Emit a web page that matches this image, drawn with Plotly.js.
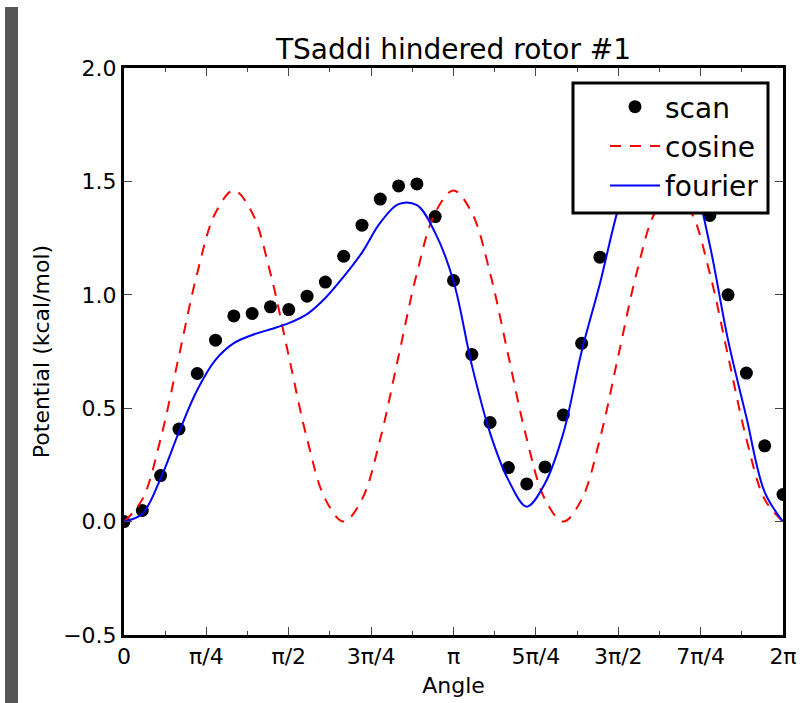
<!DOCTYPE html>
<html><head><meta charset="utf-8">
<script src="https://cdn.plot.ly/plotly-3.0.1.min.js"></script>
<style>html,body{margin:0;padding:0;background:#fff}</style>
</head><body><div id="chart" style="width:800px;height:703px"></div>
<script>
// angles in degrees (axis labelled in multiples of pi)
const scanAngle = [0,10,20,30,40,50,60,70,80,90,100,110,120,130,140,150,160,170,180,190,200,210,220,230,240,250,260,270,280,290,300,310,320,330,340,350,360];
const scanPotential = [0.0,0.049,0.203,0.408,0.653,0.80,0.907,0.918,0.947,0.935,0.994,1.056,1.17,1.307,1.422,1.48,1.489,1.345,1.063,0.737,0.437,0.238,0.166,0.241,0.47,0.786,1.166,1.50,1.72,1.82,1.80,1.62,1.35,1.00,0.655,0.334,0.12];
const curveAngle = [0,10,20,30,40,50,60,70,80,90,100,110,120,130,140,150,160,170,180,190,200,210,220,230,240,250,260,270,280,290,300,310,320,330,340,350,360];
const cosinePotential = [0,0.098,0.365,0.73,1.095,1.362,1.46,1.362,1.095,0.73,0.365,0.098,0,0.098,0.365,0.73,1.095,1.362,1.46,1.362,1.095,0.73,0.365,0.098,0,0.098,0.365,0.73,1.095,1.362,1.46,1.362,1.095,0.73,0.365,0.098,0];
const fourierPotential = [0,0.035,0.19,0.394,0.58,0.713,0.787,0.823,0.848,0.875,0.915,0.986,1.08,1.186,1.318,1.40,1.395,1.273,1.06,0.69,0.39,0.183,0.066,0.169,0.39,0.75,1.05,1.38,1.62,1.74,1.72,1.55,1.22,0.80,0.46,0.13,0];
const xTickVals = [0,45,90,135,180,225,270,315,360];
const xTickText = ['0','π/4','π/2','3π/4','π','5π/4','3π/2','7π/4','2π'];
const yTickVals = [-0.5,0,0.5,1.0,1.5,2.0];
const yTickText = ['−0.5','0.0','0.5','1.0','1.5','2.0'];

const FONT = 'DejaVu Sans, sans-serif';
const traces = [
  {x: scanAngle, y: scanPotential, name: 'scan', mode: 'markers', type: 'scatter', legendgroup: 'a',
   marker: {color: 'black', size: 13}},
  {x: curveAngle, y: cosinePotential, name: 'cosine', mode: 'lines', type: 'scatter', legendgroup: 'b',
   line: {color: '#ff0000', width: 2, dash: '11px,9px', shape: 'spline'}},
  {x: curveAngle, y: fourierPotential, name: 'fourier', mode: 'lines', type: 'scatter', legendgroup: 'c',
   line: {color: '#0000ff', width: 2, shape: 'spline'}}
];
const layout = {
  width: 800, height: 703,
  margin: {l: 124, r: 17, t: 68, b: 68},
  paper_bgcolor: 'white', plot_bgcolor: 'white',
  font: {family: FONT, color: 'black', size: 22},
  title: {text: 'TSaddi hindered rotor #1', font: {size: 28, family: FONT, color: 'black'},
          x: 0.5, xref: 'paper', y: 1 - 49/703, yanchor: 'middle'},
  xaxis: {range: [0, 360], tickvals: xTickVals, ticktext: xTickText,
          showline: true, linecolor: 'black', linewidth: 3, mirror: 'allticks',
          ticks: 'inside', ticklen: 8, tickwidth: 1, tickcolor: '#444',
          minor: {ticks: 'inside', dtick: 22.5, tick0: 0, ticklen: 4, tickwidth: 1, tickcolor: '#444'},
          showgrid: false, zeroline: false, tickfont: {size: 22},
          title: {text: 'Angle', font: {size: 22}, standoff: 10}},
  yaxis: {range: [-0.5, 2.0], tickvals: yTickVals, ticktext: yTickText,
          showline: true, linecolor: 'black', linewidth: 3, mirror: 'allticks',
          ticks: 'inside', ticklen: 8, tickwidth: 1, tickcolor: '#444',
          showgrid: false, zeroline: false, tickfont: {size: 22},
          title: {text: 'Potential (kcal/mol)', font: {size: 22}, standoff: 8}},
  showlegend: true,
  legend: {x: (605-124)/659, xanchor: 'left', y: (635-82)/567, yanchor: 'top',
           bgcolor: 'rgba(0,0,0,0)', borderwidth: 0, font: {size: 28, family: FONT},
           itemwidth: 50, tracegroupgap: 0},
  shapes: [
    {type: 'rect', xref: 'paper', yref: 'paper', x0: (573-124)/659, x1: (768-124)/659,
     y0: (635-213)/567, y1: (635-83)/567, fillcolor: 'white', line: {color: 'black', width: 3}, layer: 'above'},
    {type: 'rect', xref: 'paper', yref: 'paper', x0: (5-124)/659, x1: (18-124)/659,
     y0: (635-703)/567, y1: (635-7)/567, fillcolor: '#565656', line: {width: 0}, layer: 'below'}
  ]
};
Plotly.newPlot('chart', traces, layout, {displayModeBar: false, staticPlot: true});
</script></body></html>
